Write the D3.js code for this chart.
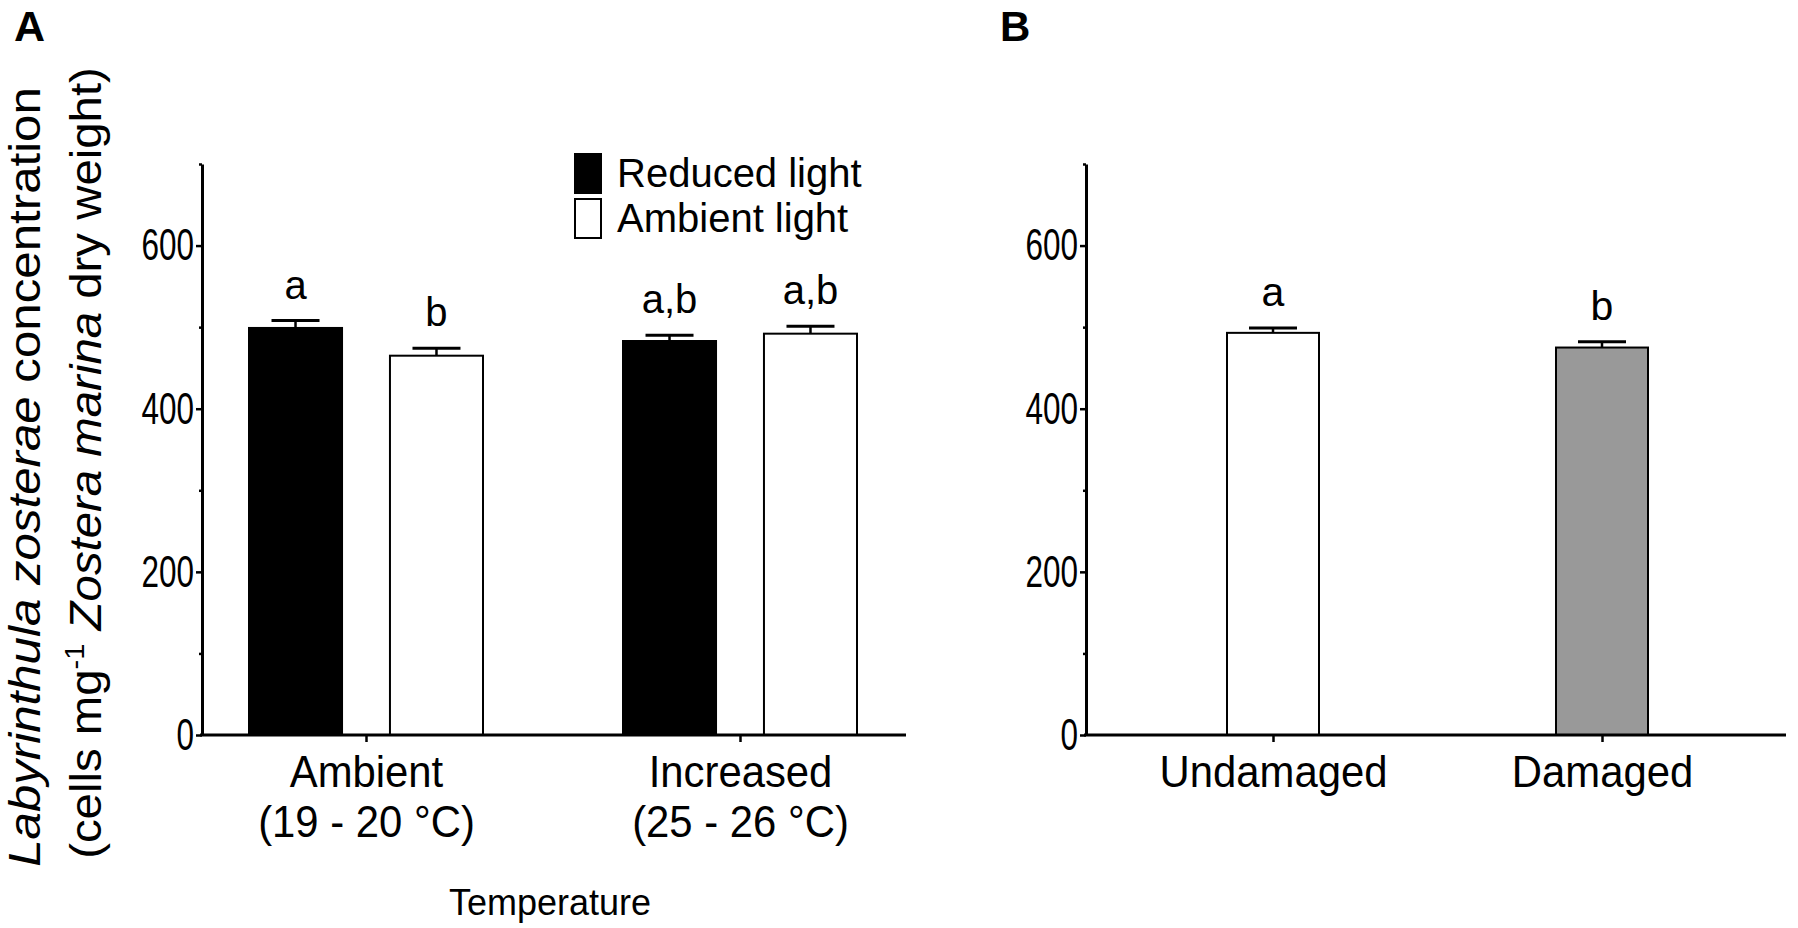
<!DOCTYPE html>
<html>
<head>
<meta charset="utf-8">
<script src="https://cdn.jsdelivr.net/npm/d3@7"></script>
<style>
  body { margin: 0; background: #fff; }
  text { font-family: "Liberation Sans", Arial, Helvetica, sans-serif; fill: #000; }
</style>
</head>
<body>
<div id="vis"></div>
<script>
// data
const TEMPS = ["Ambient", "Increased"];
const TEMP_RANGES = ["(19 - 20 °C)", "(25 - 26 °C)"];
const LIGHTS = ["Reduced light", "Ambient light"];
const REDUCED_MEANS = [499, 483];
const REDUCED_SE = [9, 7];
const AMBIENT_MEANS = [465, 492];
const AMBIENT_SE = [9, 9];
const LETTERS_A = [["a", "b"], ["a,b", "a,b"]];

const DAMAGE = ["Undamaged", "Damaged"];
const DAMAGE_MEANS = [493, 475];
const DAMAGE_SE = [6, 7];
const LETTERS_B = ["a", "b"];

const Y_TICKS = [0, 100, 200, 300, 400, 500, 600, 700];

// frame
const FRAME_WIDTH = 1798;
const FRAME_HEIGHT = 928;
const Y_TOP = 164, Y_BOTTOM = 735;

const FRAME = d3.select("#vis")
  .append("svg")
    .attr("width", FRAME_WIDTH)
    .attr("height", FRAME_HEIGHT);

const Y_SCALE = d3.scaleLinear()
  .domain([0, 700])
  .range([Y_BOTTOM, Y_TOP]);

const LIGHT_FILL = d3.scaleOrdinal().domain(LIGHTS).range(["#000", "#fff"]);

// shared y axis drawer (labels are a narrow face in the original, squeeze them)
function drawYAxis(x) {
  const g = FRAME.append("g")
    .attr("transform", "translate(" + x + ",0)")
    .call(d3.axisLeft(Y_SCALE)
      .tickValues(Y_TICKS)
      .tickFormat((d) => d % 200 === 0 ? d : "")
      .tickSize(6)
      .tickSizeOuter(0)
      .tickPadding(2));
  g.select(".domain").attr("stroke-width", 3);
  g.selectAll(".tick line").attr("stroke-width", 2.5)
    .attr("x2", (d) => d % 200 === 0 ? -6 : -3);
  g.selectAll(".tick text").attr("font-size", 45)
    .each(function () {
      const t = d3.select(this);
      const tx = +t.attr("x");
      t.attr("x", 0).attr("transform", "translate(" + tx + ",0) scale(0.7,1)");
    });
  return g;
}

// error bars + letters
function drawErrors(data, letterSize) {
  const g = FRAME.append("g");
  g.selectAll("line.stem").data(data).enter().append("line")
    .attr("x1", (d) => d.x).attr("x2", (d) => d.x)
    .attr("y1", (d) => Y_SCALE(d.mean)).attr("y2", (d) => Y_SCALE(d.mean + d.se))
    .attr("stroke", "#000")
    .attr("stroke-width", 2.5);
  g.selectAll("line.cap").data(data).enter().append("line")
    .attr("x1", (d) => d.x - 24).attr("x2", (d) => d.x + 24)
    .attr("y1", (d) => Y_SCALE(d.mean + d.se)).attr("y2", (d) => Y_SCALE(d.mean + d.se))
    .attr("stroke", "#000")
    .attr("stroke-width", 3);
  g.selectAll("text").data(data).enter().append("text")
    .attr("x", (d) => d.x)
    .attr("y", (d) => Y_SCALE(d.mean + d.se) - 22)
    .attr("text-anchor", "middle")
    .attr("font-size", letterSize)
    .text((d) => d.letter);
}

// ---------------- panel A ----------------
const XA = d3.scalePoint().domain(TEMPS).range([366, 740]);
const SUB = d3.scaleBand().domain(LIGHTS).range([-117, 117]).paddingInner(0.34);

const barsA = [];
TEMPS.forEach((t, i) => {
  barsA.push({ temp: t, light: LIGHTS[0], mean: REDUCED_MEANS[i], se: REDUCED_SE[i], letter: LETTERS_A[i][0] });
  barsA.push({ temp: t, light: LIGHTS[1], mean: AMBIENT_MEANS[i], se: AMBIENT_SE[i], letter: LETTERS_A[i][1] });
});
barsA.forEach((d) => {
  d.x = XA(d.temp) + SUB(d.light) + SUB.bandwidth() / 2;
  d.fill = LIGHT_FILL(d.light);
});

FRAME.append("g").selectAll("rect")
  .data(barsA).enter().append("rect")
    .attr("x", (d) => XA(d.temp) + SUB(d.light))
    .attr("y", (d) => Y_SCALE(d.mean))
    .attr("width", SUB.bandwidth())
    .attr("height", (d) => Y_BOTTOM - Y_SCALE(d.mean))
    .attr("fill", (d) => d.fill)
    .attr("stroke", "#000")
    .attr("stroke-width", 2);

drawErrors(barsA, 40);

// x axis A
const xAxisA = FRAME.append("g")
  .attr("transform", "translate(0," + Y_BOTTOM + ")")
  .call(d3.axisBottom(XA).tickSize(7).tickSizeOuter(0));
xAxisA.select(".domain").remove();
xAxisA.selectAll(".tick line").attr("stroke-width", 2.5);
xAxisA.selectAll(".tick text")
  .attr("font-size", 45)
  .attr("y", 0).attr("dy", null)
  .attr("transform", "scale(0.93,1)")
  .each(function (d, i) {
    const t = d3.select(this).text(null);
    t.append("tspan").attr("x", 0).attr("y", 52).text(d);
    t.append("tspan").attr("x", 0).attr("y", 102).text(TEMP_RANGES[i]);
  });
FRAME.append("line")
  .attr("x1", 200).attr("x2", 906)
  .attr("y1", Y_BOTTOM).attr("y2", Y_BOTTOM)
  .attr("stroke", "#000").attr("stroke-width", 3);

drawYAxis(202);

FRAME.append("text")
  .attr("x", 550).attr("y", 915)
  .attr("text-anchor", "middle")
  .attr("font-size", 36)
  .text("Temperature");

// y label, two lines, stretched to the original lengths
function yLabelLine(center, baseline, length, build) {
  const g = FRAME.append("g").attr("transform", "translate(0," + center + ") rotate(-90)");
  const t = g.append("text").attr("y", baseline).attr("text-anchor", "middle").attr("font-size", 44);
  build(t);
  const w = t.node().getComputedTextLength();
  t.attr("transform", "scale(" + (length / w) + ",1)");
}
yLabelLine(477, 40, 780, (t) => {
  t.append("tspan").attr("font-style", "italic").text("Labyrinthula zosterae");
  t.append("tspan").text(" concentration");
});
yLabelLine(463, 101, 792, (t) => {
  t.append("tspan").text("(cells mg");
  t.append("tspan").attr("font-size", 27).attr("dy", -17).text("-1");
  t.append("tspan").attr("dy", 17).text(" ");
  t.append("tspan").attr("font-style", "italic").text("Zostera marina");
  t.append("tspan").text(" dry weight)");
});

// legend
const legend = FRAME.append("g").selectAll("g")
  .data(LIGHTS).enter().append("g")
    .attr("transform", (d, i) => "translate(575," + (154 + i * 45) + ")");
legend.append("rect")
  .attr("width", 26).attr("height", 39)
  .attr("fill", (d) => LIGHT_FILL(d))
  .attr("stroke", "#000").attr("stroke-width", 2);
legend.append("text")
  .attr("x", 42).attr("y", 33)
  .attr("font-size", 40)
  .text((d) => d);

// ---------------- panel B ----------------
const XB = d3.scalePoint().domain(DAMAGE).range([1273, 1602]);
const BAR_W = 92;
const DAMAGE_FILL = d3.scaleOrdinal().domain(DAMAGE).range(["#fff", "#999"]);

const barsB = DAMAGE.map((c, i) => ({
  cat: c, mean: DAMAGE_MEANS[i], se: DAMAGE_SE[i], letter: LETTERS_B[i],
  x: XB(c), fill: DAMAGE_FILL(c)
}));

FRAME.append("g").selectAll("rect")
  .data(barsB).enter().append("rect")
    .attr("x", (d) => XB(d.cat) - BAR_W / 2)
    .attr("y", (d) => Y_SCALE(d.mean))
    .attr("width", BAR_W)
    .attr("height", (d) => Y_BOTTOM - Y_SCALE(d.mean))
    .attr("fill", (d) => d.fill)
    .attr("stroke", "#000")
    .attr("stroke-width", 2);

drawErrors(barsB, 41);

const xAxisB = FRAME.append("g")
  .attr("transform", "translate(0," + Y_BOTTOM + ")")
  .call(d3.axisBottom(XB).tickSize(7).tickSizeOuter(0).tickPadding(13));
xAxisB.select(".domain").remove();
xAxisB.selectAll(".tick line").attr("stroke-width", 2.5);
xAxisB.selectAll(".tick text").attr("font-size", 45)
  .attr("transform", "scale(0.93,1)");
FRAME.append("line")
  .attr("x1", 1084).attr("x2", 1786)
  .attr("y1", Y_BOTTOM).attr("y2", Y_BOTTOM)
  .attr("stroke", "#000").attr("stroke-width", 3);

drawYAxis(1086);

// panel letters
FRAME.append("text").attr("x", 14).attr("y", 41)
  .attr("font-size", 43).attr("font-weight", "bold").text("A");
FRAME.append("text").attr("x", 1000).attr("y", 41)
  .attr("font-size", 42).attr("font-weight", "bold").text("B");
</script>
</body>
</html>
